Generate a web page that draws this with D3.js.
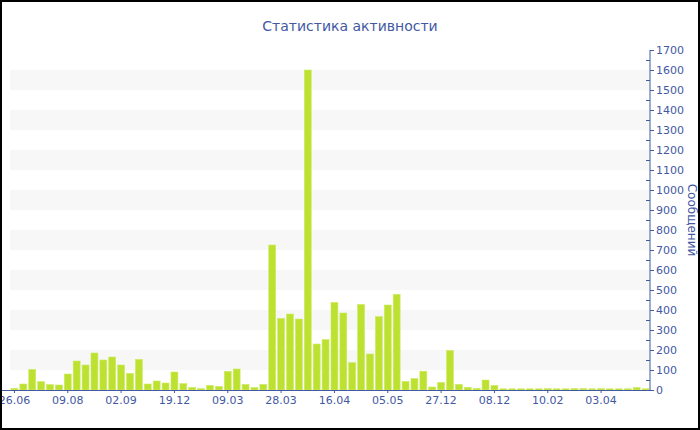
<!DOCTYPE html>
<html>
<head>
<meta charset="utf-8">
<script src="https://cdn.jsdelivr.net/npm/d3@7"></script>
<style>
  html, body { margin: 0; padding: 0; background: #fff; }
  svg { display: block; }
</style>
</head>
<body>
<svg id="chart" width="700" height="430"></svg>
<script>
const title = "Статистика активности";
const yTitle = "Сообщений";
const tickLabels = ["26.06", "09.08", "02.09", "19.12", "09.03", "28.03", "16.04", "05.05", "27.12", "08.12", "10.02", "03.04"];
const values = [
  8, 30, 103, 42, 27, 25, 80, 145, 125, 185, 150, 165,
  125, 83, 153, 30, 45, 35, 90, 32, 13, 7, 23, 18,
  93, 105, 28, 12, 28, 725, 358, 380, 355, 1600, 230, 252,
  438, 385, 137, 428, 180, 367, 425, 478, 43, 57, 94, 15,
  38, 198, 28, 13, 8, 50, 23, 6, 6, 6, 6, 6,
  7, 6, 6, 7, 7, 6, 7, 6, 6, 6, 12, 6
];
const categories = values.map((d, i) => i);
const tickEvery = 6;

(function () {
const W = 700, H = 430;
const pLeft = 10, pRight = 650, pTop = 50, pBottom = 390;
const col = "#4358a3";
const font = "DejaVu Sans, Verdana, sans-serif";
const svg = d3.select("#chart");

svg.append("rect").attr("x", 0).attr("y", 0).attr("width", W).attr("height", H).attr("fill", "#fff");

const x = d3.scaleBand().domain(categories).range([pLeft, pRight]).paddingInner(0.22).paddingOuter(0.11);
const y = d3.scaleLinear().domain([0, 1700]).range([pBottom, pTop]);

// bands
const bandStarts = d3.range(100, 1700, 200);
svg.append("g").selectAll("rect").data(bandStarts).join("rect")
  .attr("x", pLeft).attr("width", pRight - pLeft)
  .attr("y", d => y(d + 100)).attr("height", d => y(d) - y(d + 100))
  .attr("fill", "#f7f7f7");

// bars
svg.append("g").selectAll("rect").data(values).join("rect")
  .attr("x", (d, i) => x(i)).attr("width", x.bandwidth())
  .attr("y", d => y(d)).attr("height", d => y(0) - y(d))
  .attr("fill", "#bde130").attr("stroke", "#cdea62").attr("stroke-width", 0.6);

// y axis (right)
const yAxis = d3.axisRight(y).tickValues(d3.range(0, 1701, 100)).tickSize(4).tickPadding(2).tickFormat(d3.format("d"));
const gy = svg.append("g").attr("transform", `translate(${pRight},0)`).call(yAxis);
gy.select(".domain").attr("stroke", col).attr("d", `M0,${pTop}V${pBottom}`);
gy.selectAll(".tick line").attr("stroke", col);
gy.selectAll(".tick text").attr("fill", col).attr("font-family", font).attr("font-size", 11);
// minor ticks
svg.append("g").selectAll("line").data(d3.range(50, 1700, 100)).join("line")
  .attr("x1", pRight - 4).attr("x2", pRight).attr("y1", d => y(d) + 0.5).attr("y2", d => y(d) + 0.5)
  .attr("stroke", col);

// x axis
const tickCats = categories.filter(i => i % tickEvery === 0);
const xAxis = d3.axisBottom(x).tickValues(tickCats).tickSize(3).tickPadding(3)
  .tickFormat(i => tickLabels[i / tickEvery]);
const gx = svg.append("g").attr("transform", `translate(0,${pBottom})`).call(xAxis);
gx.select(".domain").attr("stroke", col).attr("d", `M0,0.5H${pRight}`);
gx.selectAll(".tick line").attr("stroke", col);
gx.selectAll(".tick text").attr("fill", col).attr("font-family", font).attr("font-size", 11);

// title
svg.append("text").attr("x", 350).attr("y", 31).attr("text-anchor", "middle")
  .attr("font-family", font).attr("font-size", 14)
  .attr("fill", col).text(title);

// y title
svg.append("text").attr("transform", `translate(688,${(pTop + pBottom) / 2}) rotate(90)`)
  .attr("text-anchor", "middle")
  .attr("font-family", font).attr("font-size", 12)
  .attr("fill", col).text(yTitle);

// border
svg.append("rect").attr("x", 1).attr("y", 1).attr("width", W - 2).attr("height", H - 2)
  .attr("fill", "none").attr("stroke", "#000").attr("stroke-width", 2);
})();
</script>
</body>
</html>
